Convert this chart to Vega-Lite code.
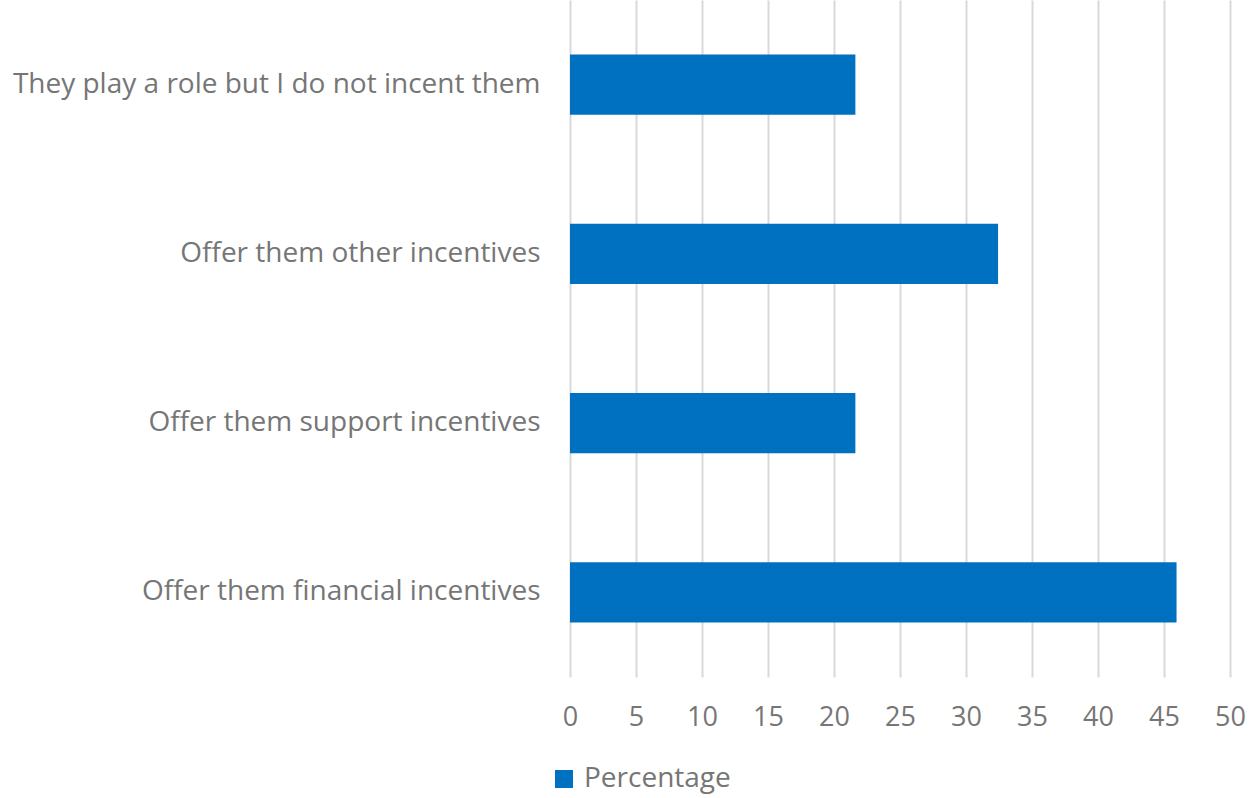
{
  "$schema": "https://vega.github.io/schema/vega-lite/v6.json",
  "width": 660,
  "height": 677,
  "autosize": {"type": "none"},
  "padding": {"left": 570, "top": 0, "right": 20, "bottom": 121},
  "background": "white",
  "config": {"view": {"stroke": null}},
  "data": {"values": [
    {"category": "They play a role but I do not incent them", "Percentage": 21.62, "series": "Percentage"},
    {"category": "Offer them other incentives", "Percentage": 32.43, "series": "Percentage"},
    {"category": "Offer them support incentives", "Percentage": 21.62, "series": "Percentage"},
    {"category": "Offer them financial incentives", "Percentage": 45.95, "series": "Percentage"}
  ]},
  "mark": {"type": "bar"},
  "encoding": {
    "y": {
      "field": "category", "type": "nominal", "sort": null,
      "scale": {"paddingInner": 0.645, "paddingOuter": 0.3225},
      "axis": {"title": null, "ticks": false, "domain": false, "grid": false,
        "labelFont": "Open Sans", "labelFontSize": 28, "labelColor": "#767676", "labelPadding": 30, "labelLimit": 0}
    },
    "x": {
      "field": "Percentage", "type": "quantitative",
      "scale": {"domain": [0, 50], "nice": false},
      "axis": {"title": null, "values": [0,5,10,15,20,25,30,35,40,45,50], "ticks": false, "domain": false,
        "grid": true, "gridColor": "#d9d9d9", "gridWidth": 2, "labelFlush": false,
        "labelFont": "Open Sans", "labelFontSize": 27, "labelColor": "#767676", "labelPadding": 27}
    },
    "color": {
      "field": "series", "type": "nominal",
      "scale": {"range": ["#0070C0"]},
      "legend": {"title": null, "orient": "none", "legendX": -20, "legendY": 765, "symbolType": "square", "symbolSize": 324,
        "labelFont": "Open Sans", "labelFontSize": 28, "labelColor": "#767676", "symbolStrokeWidth": 0, "labelOffset": 6}
    }
  }
}
